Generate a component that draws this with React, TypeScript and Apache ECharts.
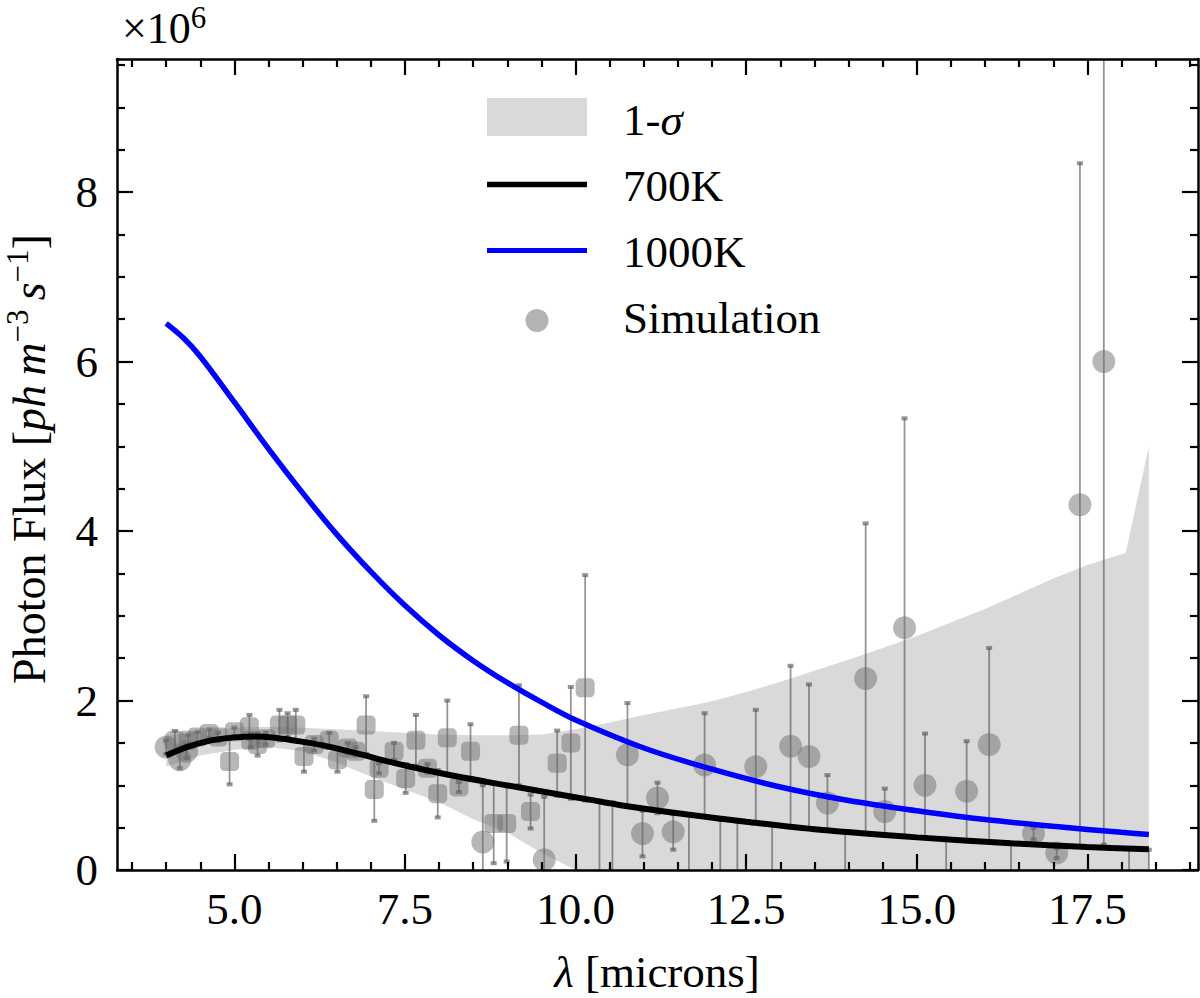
import React, { useEffect, useRef } from "react";
import * as echarts from "echarts";

const SERIF = "'Liberation Serif', 'DejaVu Serif', serif";
const BAND = "#d9d9d9";
const MARKER = "rgba(110, 110, 110, 0.62)";
const BAR = "rgba(80, 80, 80, 0.6)";

const X_MIN = 3.28;
const X_MAX = 19.12;
const Y_MIN = 0;
const Y_MAX = 9.57;

// tick positions
const xMajorTicks = [5, 7.5, 10, 12.5, 15, 17.5];
const xMinorTicks = [3.5, 4, 4.5, 5.5, 6, 6.5, 7, 8, 8.5, 9, 9.5, 10.5, 11, 11.5, 12, 13, 13.5, 14, 14.5, 15.5, 16, 16.5, 17, 18, 18.5, 19];
const yMajorTicks = [0, 2, 4, 6, 8];
const yMinorTicks = [0.5, 1, 1.5, 2.5, 3, 3.5, 4.5, 5, 5.5, 6.5, 7, 7.5, 8.5, 9, 9.5];

// model curves [lambda, flux / 1e6]
const curve1000K = [
  [4.0, 6.45], [4.25, 6.28], [4.5, 6.06], [5.0, 5.52], [5.5, 4.97], [6.0, 4.45],
  [6.5, 3.96], [7.0, 3.52], [7.5, 3.12], [8.0, 2.77], [8.5, 2.47], [9.0, 2.21],
  [9.5, 1.98], [10.0, 1.77], [11.0, 1.44], [12.0, 1.19], [13.0, 0.98], [14.0, 0.82],
  [15.0, 0.7], [16.0, 0.595], [17.0, 0.515], [18.0, 0.445], [18.4, 0.42],
];
const curve700K = [
  [4.0, 1.35], [4.3, 1.45], [4.66, 1.53], [5.0, 1.565], [5.3, 1.575], [5.6, 1.56],
  [5.9, 1.525], [6.3, 1.47], [6.6, 1.415], [6.9, 1.355], [7.2, 1.29], [7.6, 1.215],
  [8.1, 1.13], [8.7, 1.04], [9.2, 0.97], [9.7, 0.9], [10.2, 0.83], [10.66, 0.765],
  [11.64, 0.655], [12.5, 0.57], [13.58, 0.475], [15.0, 0.385], [16.38, 0.315],
  [17.49, 0.27], [18.4, 0.245],
];

// 1-sigma band
const bandX = [4.0, 4.5, 5.0, 5.5, 6.0, 6.5, 7.0, 7.5, 8.0, 8.5, 9.0, 9.5, 10.0, 10.5, 11.0, 11.5, 12.0, 12.5, 13.0, 13.5, 14.0, 14.5, 15.0, 15.5, 16.0, 16.5, 17.0, 17.5, 18.06, 18.4];
const bandUpper = [1.58, 1.64, 1.68, 1.69, 1.68, 1.66, 1.64, 1.62, 1.6, 1.59, 1.59, 1.6, 1.66, 1.74, 1.83, 1.91, 1.99, 2.1, 2.22, 2.35, 2.48, 2.62, 2.76, 2.92, 3.08, 3.26, 3.44, 3.6, 3.74, 5.0];
const bandLower = [1.22, 1.35, 1.42, 1.45, 1.4, 1.27, 1.1, 0.95, 0.8, 0.6, 0.44, 0.2, 0, 0, 0, 0, 0, 0, 0, 0, 0, 0, 0, 0, 0, 0, 0, 0, 0, 0];

// simulation points [lambda, flux, sigma]
const squarePts = [
  [4.32, 1.53, 0.06], [4.46, 1.57, 0.06], [4.63, 1.61, 0.05], [4.76, 1.57, 0.05],
  [4.93, 1.28, 0.27], [5.0, 1.63, 0.05], [5.22, 1.69, 0.14], [5.24, 1.53, 0.08],
  [5.34, 1.48, 0.13], [5.46, 1.55, 0.07], [5.66, 1.71, 0.18], [5.78, 1.71, 0.14],
  [5.9, 1.71, 0.18], [6.02, 1.34, 0.18], [6.17, 1.48, 0.07], [6.39, 1.53, 0.09],
  [6.51, 1.3, 0.14], [6.66, 1.44, 0.06], [6.78, 1.4, 0.05], [6.93, 1.71, 0.34],
  [7.05, 0.95, 0.37], [7.12, 1.2, 0.06], [7.34, 1.4, 0.1], [7.51, 1.08, 0.17],
  [7.66, 1.53, 0.3], [7.83, 1.2, 0.05], [7.98, 0.9, 0.28], [8.12, 1.56, 0.44],
  [8.29, 0.98, 0.06], [8.46, 1.4, 0.32], [8.8, 0.55, 0.47], [8.99, 0.55, 0.45],
  [9.17, 1.59, 0.59], [9.34, 0.69, 0.2], [9.73, 1.26, 0.385], [9.93, 1.5, 0.66],
  [10.14, 2.15, 1.33],
];
const circlePts = [
  [4.0, 1.45, 0.08], [4.13, 1.52, 0.12], [4.2, 1.3, 0.1], [4.3, 1.4, 0.08],
  [8.64, 0.33, 0.67], [9.54, 0.12, 0.745], [10.76, 1.36, 0.61], [10.98, 0.43, 0.27],
  [11.2, 0.85, 0.18], [11.43, 0.45, 0.21], [11.89, 1.24, 0.61], [12.64, 1.22, 0.67],
  [13.15, 1.46, 0.95], [13.42, 1.34, 0.85], [13.69, 0.79, 0.33], [14.25, 2.26, 1.83],
  [14.53, 0.69, 0.27], [14.82, 2.86, 2.47], [15.12, 1.0, 0.61], [15.73, 0.93, 0.59],
  [16.06, 1.48, 1.14], [16.71, 0.43, 0.07], [17.05, 0.2, 0.06], [17.39, 4.31, 4.03],
  [17.74, 6.0, 5.7],
];
// points below the axis: only the upper end of the bar shows [lambda, top]
const belowBars = [
  [10.35, 0.82], [10.54, 0.8], [11.66, 0.65], [12.12, 0.59], [12.37, 0.57], [12.88, 0.53],
  [13.95, 0.45], [15.43, 0.37], [16.38, 0.32], [18.11, 0.25], [18.4, 0.24],
];

const xAxisOf = (position: "top" | "bottom", ticks: number[], len: number, showLine: boolean, labels: boolean) => ({
  type: "value",
  position,
  min: X_MIN,
  max: X_MAX,
  z: 10,
  axisLine: { show: showLine, onZero: false, lineStyle: { color: "#000", width: 2.5 } },
  axisTick: { show: true, inside: true, length: len, customValues: ticks, lineStyle: { color: "#000", width: 2.2 } },
  axisLabel: labels
    ? { show: true, customValues: ticks, formatter: (v: number) => v.toFixed(1), margin: 16, fontSize: 45, fontFamily: SERIF, color: "#000" }
    : { show: false },
  splitLine: { show: false },
});

const yAxisOf = (position: "left" | "right", ticks: number[], len: number, showLine: boolean, labels: boolean) => ({
  type: "value",
  position,
  min: Y_MIN,
  max: Y_MAX,
  z: 10,
  axisLine: { show: showLine, onZero: false, lineStyle: { color: "#000", width: 2.5 } },
  axisTick: { show: true, inside: true, length: len, customValues: ticks, lineStyle: { color: "#000", width: 2.2 } },
  axisLabel: labels
    ? { show: true, customValues: ticks, formatter: (v: number) => String(v), margin: 19, fontSize: 45, fontFamily: SERIF, color: "#000" }
    : { show: false },
  splitLine: { show: false },
});

const legendText = (y: number, text: string, rich?: any) => ({
  type: "text",
  x: 623,
  y,
  style: {
    text,
    rich,
    fill: "#000",
    fontSize: 45,
    fontFamily: SERIF,
    align: "left",
    verticalAlign: "middle",
    textAlign: "left",
    textVerticalAlign: "middle",
  },
});

function App() {
  const chartRef = useRef<HTMLDivElement>(null);

  useEffect(() => {
    const chart = echarts.init(chartRef.current, null, { renderer: "svg" });

    const errorBars = [
      ...squarePts.map(([x, y, s]) => [x, y - s, y + s]),
      ...circlePts.map(([x, y, s]) => [x, y - s, y + s]),
      ...belowBars.map(([x, top]) => [x, Y_MIN - 1, top]),
    ];

    chart.setOption({
      animation: false,
      grid: { left: 117, right: 2, top: 59, bottom: 128, containLabel: false, outerBoundsMode: "none" },
      xAxis: [
        xAxisOf("bottom", xMajorTicks, 16, true, true),
        xAxisOf("bottom", xMinorTicks, 8, false, false),
        xAxisOf("top", xMajorTicks, 16, true, false),
        xAxisOf("top", xMinorTicks, 8, false, false),
      ],
      yAxis: [
        yAxisOf("left", yMajorTicks, 16, true, true),
        yAxisOf("left", yMinorTicks, 8, false, false),
        yAxisOf("right", yMajorTicks, 16, true, false),
        yAxisOf("right", yMinorTicks, 8, false, false),
      ],
      series: [
        {
          type: "custom",
          name: "1-σ",
          z: 1,
          silent: true,
          data: [[bandX[0], bandUpper[0]]],
          renderItem: (_params: any, api: any) => {
            const pts: number[][] = [];
            for (let i = 0; i < bandX.length; i++) pts.push(api.coord([bandX[i], bandUpper[i]]));
            for (let i = bandX.length - 1; i >= 0; i--) pts.push(api.coord([bandX[i], bandLower[i]]));
            return { type: "polygon", shape: { points: pts }, style: { fill: BAND } };
          },
        },
        {
          type: "custom",
          name: "errors",
          z: 2,
          silent: true,
          data: errorBars,
          renderItem: (params: any, api: any) => {
            const cs = params.coordSys;
            const top = cs.y;
            const bottom = cs.y + cs.height;
            const x = api.value(0);
            const pLo = api.coord([x, api.value(1)]);
            const pHi = api.coord([x, api.value(2)]);
            const children: any[] = [
              {
                type: "line",
                shape: { x1: pLo[0], y1: Math.max(pHi[1], top), x2: pLo[0], y2: Math.min(pLo[1], bottom) },
                style: { stroke: BAR, lineWidth: 1.8 },
              },
            ];
            [pHi[1], pLo[1]].forEach((py) => {
              if (py >= top && py <= bottom) {
                children.push({ type: "rect", shape: { x: pLo[0] - 3, y: py - 2, width: 6, height: 4 }, style: { fill: BAR } });
              }
            });
            return { type: "group", children };
          },
        },
        {
          type: "scatter",
          name: "Simulation",
          z: 3,
          silent: true,
          symbol: "roundRect",
          symbolSize: 19,
          itemStyle: { color: MARKER },
          data: squarePts.map(([x, y]) => [x, y]),
        },
        {
          type: "scatter",
          name: "Simulation",
          z: 3,
          silent: true,
          symbol: "circle",
          symbolSize: 23,
          itemStyle: { color: MARKER },
          data: circlePts.map(([x, y]) => [x, y]),
        },
        {
          type: "line",
          name: "700K",
          z: 4,
          silent: true,
          symbol: "none",
          smooth: 0.35,
          lineStyle: { color: "#000000", width: 6 },
          data: curve700K,
        },
        {
          type: "line",
          name: "1000K",
          z: 5,
          silent: true,
          symbol: "none",
          smooth: 0.35,
          lineStyle: { color: "#0000ff", width: 5.5 },
          data: curve1000K,
        },
      ],
      graphic: [
        // legend
        { type: "rect", shape: { x: 487, y: 98, width: 100, height: 38 }, style: { fill: BAND } },
        { type: "line", shape: { x1: 487, y1: 184.5, x2: 587, y2: 184.5 }, style: { stroke: "#000", lineWidth: 5.5 } },
        { type: "line", shape: { x1: 487, y1: 250.5, x2: 587, y2: 250.5 }, style: { stroke: "#0000ff", lineWidth: 5 } },
        { type: "circle", shape: { cx: 537, cy: 320.5, r: 11.5 }, style: { fill: "rgba(128, 128, 128, 0.6)" } },
        legendText(119.8, "{a|1-}{i|σ}", {
          a: { fontSize: 45, fontFamily: SERIF, fill: "#000" },
          i: { fontSize: 45, fontFamily: SERIF, fontStyle: "italic", fill: "#000" },
        }),
        legendText(185.8, "700K"),
        legendText(252.1, "1000K"),
        legendText(318.1, "Simulation"),
        // offset text
        {
          type: "text",
          x: 122,
          y: 28,
          style: {
            text: "{a|×10}{s|6}",
            align: "left",
            verticalAlign: "middle",
            textAlign: "left",
            textVerticalAlign: "middle",
            rich: {
              a: { fontSize: 44, lineHeight: 52, fontFamily: SERIF, fill: "#000" },
              s: { fontSize: 31, lineHeight: 28, verticalAlign: "top", fontFamily: SERIF, fill: "#000" },
            },
          },
        },
        // x axis title
        {
          type: "text",
          x: 657,
          y: 971.5,
          style: {
            text: "{i|λ}{a| [microns]}",
            align: "center",
            verticalAlign: "middle",
            textAlign: "center",
            textVerticalAlign: "middle",
            rich: {
              a: { fontSize: 45, lineHeight: 36, fontFamily: SERIF, fill: "#000" },
              i: { fontSize: 45, lineHeight: 36, fontFamily: SERIF, fontStyle: "italic", fill: "#000" },
            },
          },
        },
        // y axis title
        {
          type: "text",
          x: 29,
          y: 459,
          rotation: Math.PI / 2,
          style: {
            text: "{a|Photon Flux [}{i|ph\u2009m}{s|−3}{i|\u2009s}{s|−1}{a|]}",
            align: "center",
            verticalAlign: "middle",
            textAlign: "center",
            textVerticalAlign: "middle",
            rich: {
              a: { fontSize: 46, lineHeight: 54, fontFamily: SERIF, fill: "#000" },
              i: { fontSize: 46, lineHeight: 54, fontFamily: SERIF, fontStyle: "italic", fill: "#000" },
              s: { fontSize: 31, lineHeight: 22, verticalAlign: "top", fontFamily: SERIF, fill: "#000" },
            },
          },
        },
      ],
    });

    return () => {
      chart.dispose();
    };
  }, []);

  return <div ref={chartRef} style={{ position: "absolute", left: 0, top: 0, width: 1200, height: 998 }} />;
}

export default App;
